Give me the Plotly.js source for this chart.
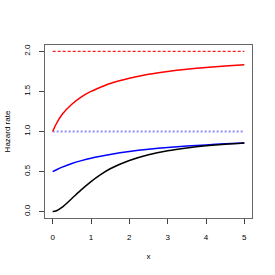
<!DOCTYPE html>
<html>
<head>
<meta charset="utf-8">
<script src="https://cdn.plot.ly/plotly-3.0.1.min.js"></script>
<style>html,body{margin:0;padding:0;background:#fff;}#chart{width:275px;height:275px;}</style>
</head>
<body>
<div id="chart"></div>
<script>
// Data
const xs = [0, 0.1, 0.25, 0.5, 0.75, 1, 1.25, 1.5, 2, 2.5, 3, 3.5, 4, 4.5, 5];
const blackHazard = [0, 0.01, 0.055, 0.164, 0.274, 0.375, 0.462, 0.535, 0.638, 0.71, 0.76, 0.795, 0.822, 0.842, 0.857];
const blueHazard  = [0.5, 0.523, 0.555, 0.6, 0.636, 0.667, 0.692, 0.714, 0.75, 0.778, 0.8, 0.818, 0.833, 0.846, 0.857];
const redHazard   = [1.0, 1.1, 1.215, 1.34, 1.432, 1.5, 1.553, 1.6, 1.665, 1.714, 1.75, 1.778, 1.8, 1.818, 1.834];
const refX = [0, 5];
const redLimit = [2, 2];
const blueLimit = [1, 1];
const xTicks = [0, 1, 2, 3, 4, 5];
const yTicks = [0, 0.5, 1, 1.5, 2];
const yTickText = ['0.0', '0.5', '1.0', '1.5', '2.0'];

const traces = [
  {x: refX, y: redLimit, mode: 'lines', line: {color: '#ff2020', width: 1.3, dash: '3px,2px'}},
  {x: refX, y: blueLimit, mode: 'lines', line: {color: '#8c8cff', width: 2, dash: '2px,2px'}},
  {x: xs, y: redHazard, mode: 'lines', line: {color: '#ff0000', width: 1.5, shape: 'spline', smoothing: 0.8}},
  {x: xs, y: blueHazard, mode: 'lines', line: {color: '#0000ff', width: 1.5, shape: 'spline', smoothing: 0.8}},
  {x: xs, y: blackHazard, mode: 'lines', line: {color: '#000000', width: 1.5, shape: 'spline', smoothing: 0.8}}
];

const fnt = {family: 'Liberation Sans, Arial, sans-serif', size: 8, color: '#000'};
const layout = {
  width: 275, height: 275,
  margin: {l: 45, r: 23, t: 45, b: 57},
  showlegend: false,
  paper_bgcolor: '#fff', plot_bgcolor: '#fff',
  font: fnt,
  xaxis: {
    range: [-0.2, 5.2], tickvals: xTicks, ticks: 'outside', ticklen: 5, tickcolor: '#444',
    showline: true, mirror: true, linecolor: '#666', linewidth: 1,
    showgrid: false, zeroline: false, ticklabelstandoff: 6,
    title: {text: 'x', font: fnt, standoff: 12}
  },
  yaxis: {
    range: [-0.08, 2.08], tickvals: yTicks, ticktext: yTickText, ticks: 'outside', ticklen: 5, tickcolor: '#444',
    showline: true, mirror: true, linecolor: '#666', linewidth: 1,
    showgrid: false, zeroline: false, tickangle: -90, ticklabelstandoff: 6,
    title: {text: 'Hazard rate', font: fnt, standoff: 10}
  }
};
Plotly.newPlot('chart', traces, layout, {staticPlot: true, displayModeBar: false});
</script>
</body>
</html>
